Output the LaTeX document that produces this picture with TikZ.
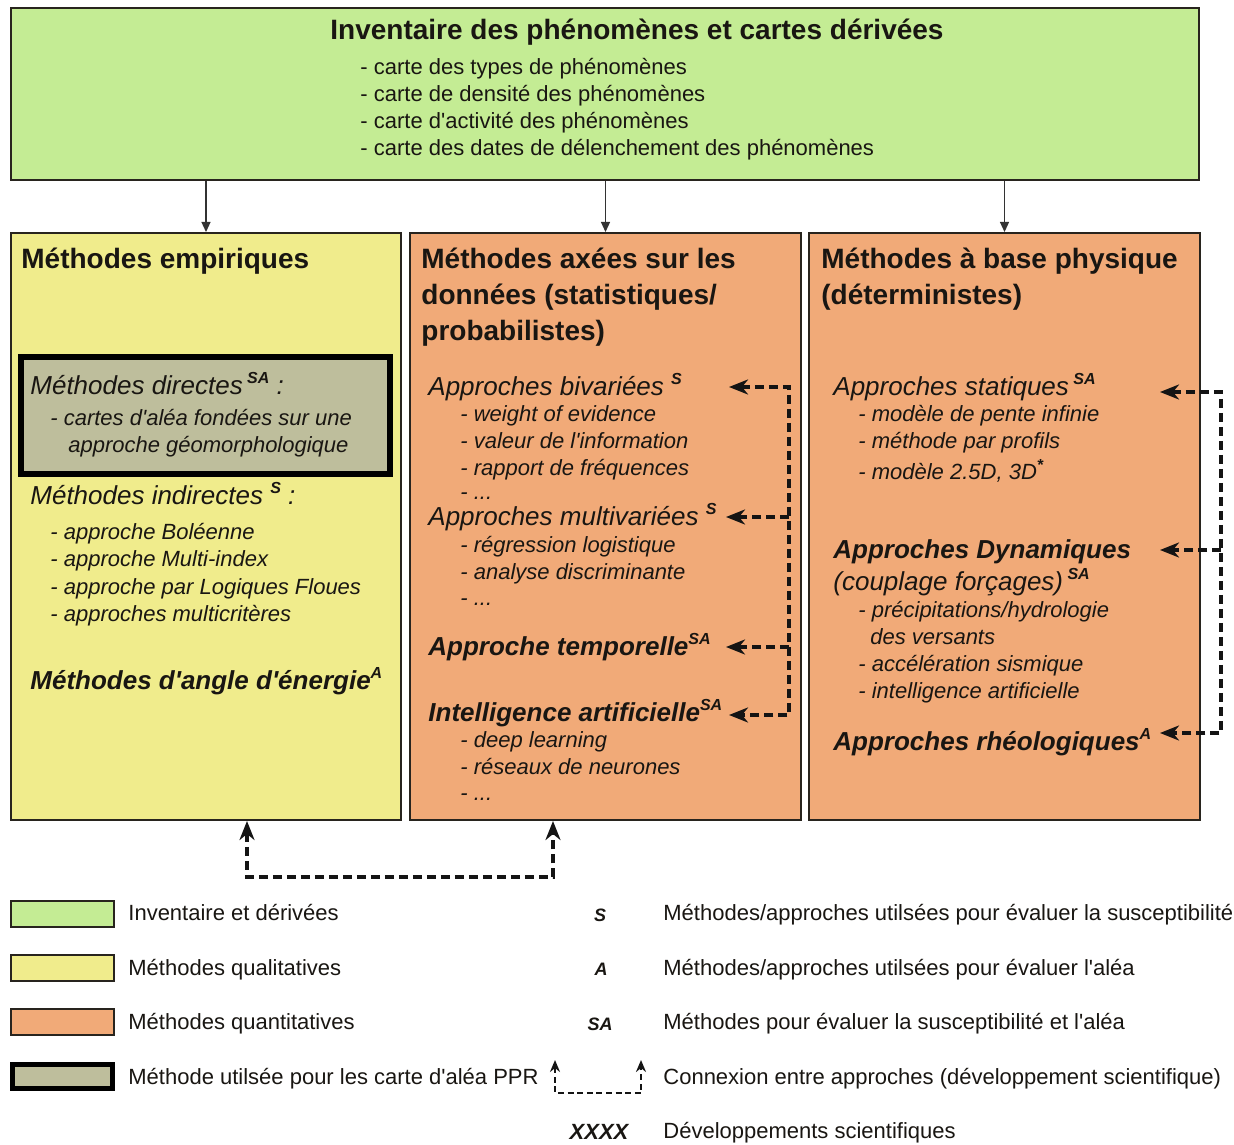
\documentclass[tikz,border=0pt]{standalone}
\usepackage{fontspec}
\setmainfont{Liberation Sans}
\usetikzlibrary{arrows.meta}
\definecolor{cgreen}{RGB}{196,236,148}
\definecolor{cyellow}{RGB}{240,236,140}
\definecolor{corange}{RGB}{241,170,120}
\definecolor{cgray}{RGB}{190,190,156}
\definecolor{cline}{RGB}{40,36,30}
\definecolor{ctext}{RGB}{25,22,18}
\newcommand\supx[1]{\raisebox{0.42em}{\fontsize{8}{8}\selectfont\bfseries\itshape #1}}
\newcommand\ap{\textquotesingle}
\tikzset{
  box/.style={draw=cline, line width=1pt, inner sep=0pt},
  hd/.style={anchor=base west, inner sep=0pt, text=ctext, font=\fontsize{14}{17}\selectfont\bfseries},
  sub/.style={anchor=base west, inner sep=0pt, text=ctext, font=\fontsize{13}{16}\selectfont\itshape},
  subb/.style={anchor=base west, inner sep=0pt, text=ctext, font=\fontsize{13}{16}\selectfont\bfseries\itshape},
  itm/.style={anchor=base west, inner sep=0pt, text=ctext, font=\fontsize{11}{13}\selectfont\itshape},
  itr/.style={anchor=base west, inner sep=0pt, text=ctext, font=\fontsize{11}{13}\selectfont},
  sym/.style={anchor=base, inner sep=0pt, text=ctext, font=\fontsize{9}{10}\selectfont\bfseries\itshape},
  feed/.style={line width=0.6pt, draw=black!80, -{Triangle[length=5pt,width=4.5pt]}},
  conn/.style={line width=1.6pt, draw=black!92, dash pattern=on 4.5pt off 2.5pt},
  tipb/.style={{Stealth[length=9.5pt,width=7.5pt,inset=3pt]}-{Stealth[length=9.5pt,width=7.5pt,inset=3pt]}},
  tipe/.style={-{Stealth[length=9.5pt,width=7.5pt,inset=3pt]}},
  tipl/.style={{Stealth[length=6pt,width=5pt,inset=2pt]}-{Stealth[length=6pt,width=5pt,inset=2pt]}},
}
\begin{document}
\begin{tikzpicture}[x=0.5pt,y=-0.5pt]
\useasboundingbox (0,0) rectangle (1234,1144);
\fill[white] (0,0) rectangle (1234,1144);

% boxes
\node[box, fill=cgreen, minimum width=594pt, minimum height=86pt] (top) at (605,94) {};
\node[box, fill=cyellow, minimum width=195pt, minimum height=293.5pt] (emp) at (206,526.5) {};
\node[box, fill=corange, minimum width=195.5pt, minimum height=293.5pt] (dat) at (605.5,526.5) {};
\node[box, fill=corange, minimum width=195.5pt, minimum height=293.5pt] (phy) at (1004.5,526.5) {};
\node[draw=black, line width=3pt, fill=cgray, minimum width=184.5pt, minimum height=58.5pt, inner sep=0pt] (dir) at (205.5,415.5) {};

% feeds
\draw[feed] (top.south -| emp.north) -- (emp.north);
\draw[feed] (top.south -| dat.north) -- (dat.north);
\draw[feed] (top.south -| phy.north) -- (phy.north);

% top box text
\node[hd, anchor=base] (ttl) at (637,40) {Inventaire des phénomènes et cartes dérivées};
\node[itr] (t1) at (360,74.5) {- carte des types de phénomènes};
\node[itr] (t2) at (360,101.5) {- carte de densité des phénomènes};
\node[itr] (t3) at (360,128.5) {- carte d\ap activité des phénomènes};
\node[itr] (t4) at (360,155.5) {- carte des dates de délenchement des phénomènes};

% left box
\node[hd] (eh) at (21,269) {Méthodes empiriques};
\node[sub] (e1) at (30,394) {Méthodes directes\,\supx{SA} :};
\node[itm] (e2) at (50,425.5) {- cartes d\ap aléa fondées sur une};
\node[itm] (e3) at (68,452.5) {approche géomorphologique};
\node[sub] (e4) at (30,504) {Méthodes indirectes \supx{S} :};
\node[itm] (e5) at (50,539.5) {- approche Boléenne};
\node[itm] (e6) at (50,566.5) {- approche Multi-index};
\node[itm] (e7) at (50,594) {- approche par Logiques Floues};
\node[itm] (e8) at (50,621) {- approches multicritères};
\node[subb] (e9) at (30,689) {Méthodes d\ap angle d\ap énergie\supx{A}};

% middle box
\node[hd] (dh1) at (421,269) {Méthodes axées sur les};
\node[hd] (dh2) at (421,305) {données (statistiques/};
\node[hd] (dh3) at (421,340) {probabilistes)};
\node[sub] (biv) at (428,395) {Approches bivariées \supx{S}};
\node[itm] (b1) at (460,421.5) {- weight of evidence};
\node[itm] (b2) at (460,448.5) {- valeur de l\ap information};
\node[itm] (b3) at (460,475.5) {- rapport de fréquences};
\node[itm] (b4) at (460,499) {- ...};
\node[sub] (mul) at (428,525) {Approches multivariées \supx{S}};
\node[itm] (m1) at (460,552.5) {- régression logistique};
\node[itm] (m2) at (460,579.5) {- analyse discriminante};
\node[itm] (m3) at (460,605) {- ...};
\node[subb] (tem) at (428,655) {Approche temporelle\supx{SA}};
\node[subb] (ia) at (428,721) {Intelligence artificielle\supx{SA}};
\node[itm] (i1) at (460,747.5) {- deep learning};
\node[itm] (i2) at (460,774.5) {- réseaux de neurones};
\node[itm] (i3) at (460,800) {- ...};

% right box
\node[hd] (ph1) at (821,269) {Méthodes à base physique};
\node[hd] (ph2) at (821,305) {(déterministes)};
\node[sub] (sta) at (833,395) {Approches statiques\,\supx{SA}};
\node[itm] (s1) at (858,421.5) {- modèle de pente infinie};
\node[itm] (s2) at (858,448.5) {- méthode par profils};
\node[itm] (s3) at (858,479.5) {- modèle 2.5D, 3D\supx{*}};
\node[subb] (dyn) at (833,558) {Approches Dynamiques};
\node[sub] (dyn2) at (833,590) {(couplage forçages)\,\supx{SA}};
\node[itm] (d1) at (858,617.5) {- précipitations/hydrologie};
\node[itm] (d2) at (870,644.5) {des versants};
\node[itm] (d3) at (858,671.5) {- accélération sismique};
\node[itm] (d4) at (858,698.5) {- intelligence artificielle};
\node[subb] (rhe) at (833,750) {Approches rhéologiques\supx{A}};

% middle connections
\coordinate (mA) at (789,387);
\coordinate (mB) at (789,517);
\coordinate (mC) at (789,647);
\coordinate (mD) at (789,715);
\coordinate (tA) at (729,387);
\coordinate (tB) at (726,517);
\coordinate (tC) at (726,647);
\coordinate (tD) at (729,715);
\draw[conn, tipb] (tA) -- (mA) -- (mD) -- (tD);
\draw[conn, tipe] (mB) -- (tB);
\draw[conn, tipe] (mC) -- (tC);

% right connections
\coordinate (rA) at (1221,392);
\coordinate (rB) at (1221,550);
\coordinate (rC) at (1221,733);
\coordinate (uA) at (1160,392);
\coordinate (uB) at (1160,550);
\coordinate (uC) at (1160,733);
\draw[conn, tipb] (uA) -- (rA) -- (rC) -- (uC);
\draw[conn, tipe] (rB) -- (uB);

% bottom connection
\coordinate (bl) at (247,877);
\coordinate (br) at (553,877);
\draw[conn, tipb] (bl |- emp.south) -- (bl) -- (br) -- (br |- dat.south);

% legend
\node[box, fill=cgreen, minimum width=51.5pt, minimum height=13pt] (lg1) at (62.5,914) {};
\node[box, fill=cyellow, minimum width=51.5pt, minimum height=13pt] (lg2) at (62.5,968) {};
\node[box, fill=corange, minimum width=51.5pt, minimum height=13pt] (lg3) at (62.5,1022) {};
\node[draw=black, line width=2.5pt, fill=cgray, minimum width=50pt, minimum height=12pt, inner sep=0pt] (lg4) at (62.5,1076.5) {};
\node[itr] (lt1) at (128,920.5) {Inventaire et dérivées};
\node[itr] (lt2) at (128,975.5) {Méthodes qualitatives};
\node[itr] (lt3) at (128,1029.5) {Méthodes quantitatives};
\node[itr] (lt4) at (128,1084.5) {Méthode utilsée pour les carte d\ap aléa PPR};

\node[sym] (ls1) at (600,921) {S};
\node[sym] (ls2) at (601,975) {A};
\node[sym] (ls3) at (600,1030) {SA};
\node[sym, font=\fontsize{11}{13}\selectfont\bfseries\itshape] (ls5) at (599,1139) {XXXX};
\coordinate (la) at (555,1060);
\coordinate (lb) at (555,1093);
\coordinate (lc) at (641,1093);
\coordinate (ld) at (641,1060);
\draw[conn, line width=1pt, dash pattern=on 3pt off 1.8pt, tipl] (la) -- (lb) -- (lc) -- (ld);

\node[itr] (lr1) at (663,920.5) {Méthodes/approches utilsées pour évaluer la susceptibilité};
\node[itr] (lr2) at (663,975.5) {Méthodes/approches utilsées pour évaluer l\ap aléa};
\node[itr] (lr3) at (663,1029.5) {Méthodes pour évaluer la susceptibilité et l\ap aléa};
\node[itr] (lr4) at (663,1084.5) {Connexion entre approches (développement scientifique)};
\node[itr] (lr5) at (663,1138.5) {Développements scientifiques};
\end{tikzpicture}
\end{document}
